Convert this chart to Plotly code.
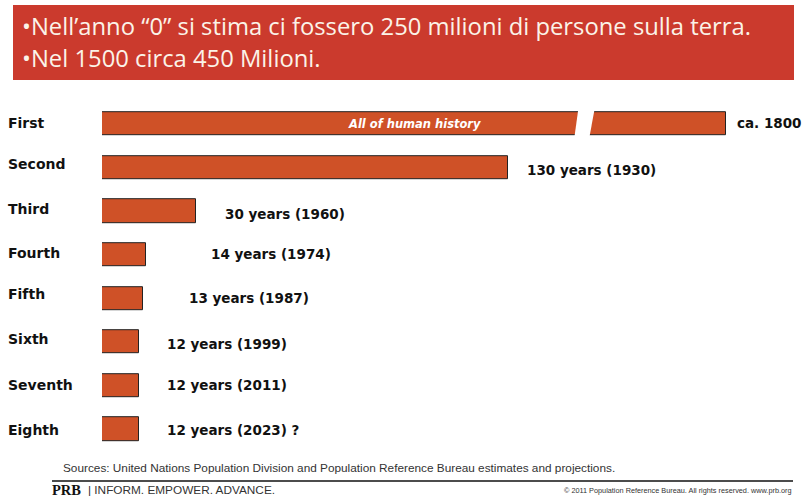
import plotly.graph_objects as go

# ---------------- data ----------------
categories = ["First", "Second", "Third", "Fourth", "Fifth", "Sixth", "Seventh", "Eighth"]
years_to_add = [200, 130, 30, 14, 13, 12, 12, 12]   # first bar: "All of human history" (broken bar, display length)
value_labels = ["ca. 1800", "130 years (1930)", "30 years (1960)", "14 years (1974)",
                "13 years (1987)", "12 years (1999)", "12 years (2011)", "12 years (2023) ?"]
first_bar_text = "All of human history"
banner_lines = ["•Nell’anno “0” si stima ci fossero 250 milioni di persone sulla terra.",
                "•Nel 1500 circa 450 Milioni."]
source_text = "Sources: United Nations Population Division and Population Reference Bureau estimates and projections."
footer_brand = "PRB"
footer_tag = "| INFORM. EMPOWER. ADVANCE."
footer_copy = "© 2011 Population Reference Bureau. All rights reserved. www.prb.org"

# ---------------- style ----------------
W, H = 807, 499
BAR = "#CF5127"
BANNER = "#CB3A2D"
label_gap = [9, 17, 27, 63, 44, 26, 26, 26]        # px gap between bar end and value text
label_dy = [1, -2, -3, 1, 0, -2, 1, -1]            # px vertical nudge of value text
cat_dy = [1, 4, 2, 2, 4, 3, 1, -1]                 # px vertical nudge of row labels
break_at = 154.5                                    # position of the break slash on first bar


def px(x):
    return x / W


def py(y):
    return 1 - y / H


ypos = list(range(len(categories)))

fig = go.Figure()
fig.add_trace(go.Bar(
    x=years_to_add, y=ypos, orientation="h", width=0.53,
    marker=dict(color=BAR, line=dict(color="#222222", width=1)),
    hoverinfo="skip",
))

x_range_max = (W - 102) / 3.12
fig.update_xaxes(domain=[px(102), 1], range=[0, x_range_max], visible=False, fixedrange=True)
fig.update_yaxes(domain=[py(451), py(102.2)], range=[7.5, -0.5], visible=False, fixedrange=True)

ann = []
# row labels
for i, c in enumerate(categories):
    ann.append(dict(text="<b>%s</b>" % c, x=px(6), xref="paper", y=i, yref="y",
                    xanchor="left", yanchor="middle", showarrow=False, yshift=cat_dy[i],
                    font=dict(family="DejaVu Sans", size=14, color="#111111")))
# value labels
for i, (v, t) in enumerate(zip(years_to_add, value_labels)):
    ann.append(dict(text="<b>%s</b>" % t, x=v, xref="x", y=i, yref="y",
                    xanchor="left", yanchor="middle", showarrow=False,
                    xshift=label_gap[i], yshift=label_dy[i],
                    font=dict(family="DejaVu Sans", size=13.5, color="#111111")))
# text inside first bar
ann.append(dict(text="<b><i>%s</i></b>" % first_bar_text, x=years_to_add[0] / 2, xref="x", y=0, yref="y",
                xanchor="center", yanchor="middle", showarrow=False,
                font=dict(family="DejaVu Sans", size=11.5, color="white")))
# banner lines
for j, (line, yc) in enumerate(zip(banner_lines, [26, 58])):
    ann.append(dict(text=line, x=px(20), xref="paper", y=py(yc), yref="paper",
                    xanchor="left", yanchor="middle", showarrow=False,
                    font=dict(family="Open Sans", size=23.8, color="#FBF3E8")))
# footer
ann.append(dict(text=source_text, x=px(61), xref="paper", y=py(468), yref="paper",
                xanchor="left", yanchor="middle", showarrow=False,
                font=dict(family="Liberation Sans", size=11.8, color="#333333")))
ann.append(dict(text="<b>%s</b>" % footer_brand, x=px(50), xref="paper", y=py(490), yref="paper",
                xanchor="left", yanchor="middle", showarrow=False,
                font=dict(family="Liberation Serif", size=14.5, color="#111111")))
ann.append(dict(text=footer_tag, x=px(86), xref="paper", y=py(490), yref="paper",
                xanchor="left", yanchor="middle", showarrow=False,
                font=dict(family="Liberation Sans", size=11.8, color="#333333")))
ann.append(dict(text=footer_copy, x=px(794), xref="paper", y=py(490), yref="paper",
                xanchor="right", yanchor="middle", showarrow=False,
                font=dict(family="Liberation Sans", size=7.3, color="#333333")))

shapes = [
    dict(type="rect", xref="paper", yref="paper", x0=px(13), x1=px(794), y0=py(80), y1=py(5),
         fillcolor=BANNER, line=dict(width=0), layer="below"),
    dict(type="line", xref="paper", yref="paper", x0=px(52), x1=px(793), y0=py(481), y1=py(481),
         line=dict(color="#111111", width=1.5)),
    # break slash on the first bar
    dict(type="path", xref="x", yref="y",
         path="M %f %f L %f %f L %f %f L %f %f Z" % (
             break_at - 1.9, -0.31, break_at + 3.3, -0.31,
             break_at + 1.7, 0.31, break_at - 3.1, 0.31),
         fillcolor="white", line=dict(width=0), layer="above"),
]

fig.update_layout(
    width=W, height=H, margin=dict(l=0, r=0, t=0, b=0),
    paper_bgcolor="white", plot_bgcolor="white",
    showlegend=False, bargap=0, annotations=ann, shapes=shapes,
)

fig.write_html("out.html", config={"displayModeBar": False})
